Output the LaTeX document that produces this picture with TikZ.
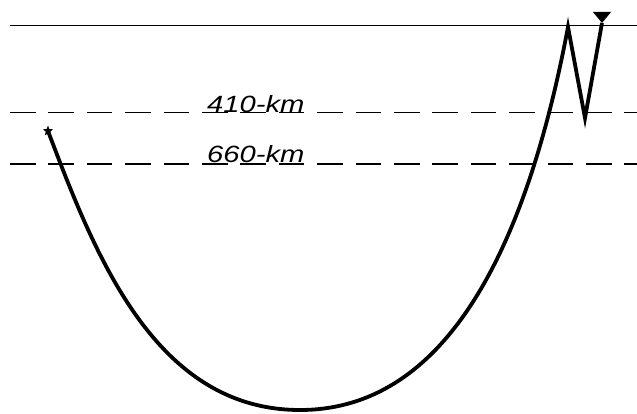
\documentclass[tikz,border=0pt]{standalone}
\usepackage{fontspec}
\setsansfont{Liberation Sans}
\usetikzlibrary{shapes.geometric}

\begin{document}
\begin{tikzpicture}[
  x=1pt, y=-1pt,
  surface/.style={line width=1.4pt},
  layer/.style={line width=1.1pt, dash pattern=on 25.5pt off 12.9pt},
  ray/.style={line width=3.8pt, line join=miter},
  depth/.style={font=\fontsize{23.5}{25}\selectfont\sffamily\itshape,
    anchor=base west, inner sep=0pt},
  event/.style={star, star points=5, star point ratio=2.4, fill,
    inner sep=0pt, minimum size=11pt}
]
  \useasboundingbox (0,0) rectangle (637,414);

  % free surface and the two discontinuities
  \draw[surface] (10,25.5) -- (637,25.5);
  \draw[layer] (10,112.5) -- (637,112.5);
  \draw[layer] (10,164) -- (637,164);
  \node[depth] (d410) at (207,112.5) {\scalebox{1.24}[1]{410-km}};
  \node[depth] (d660) at (207,163) {\scalebox{1.24}[1]{660-km}};

  % source, bounce point and receiver
  \node[event] (source) at (48,131) {};
  \coordinate (deep) at (300,410);
  \coordinate (turn) at (568,27);
  \coordinate (bounce) at (585,118);
  \coordinate (station) at (602,23);

  % ray path, reflected once under the surface
  \draw[ray] (source.center) .. controls (95,255) and (155,410) .. (deep)
    .. controls (430,410) and (520,282) .. (turn) -- (bounce) -- (station);
  \fill (593,12) -- (611,12) -- (station) -- cycle;
\end{tikzpicture}
\end{document}
